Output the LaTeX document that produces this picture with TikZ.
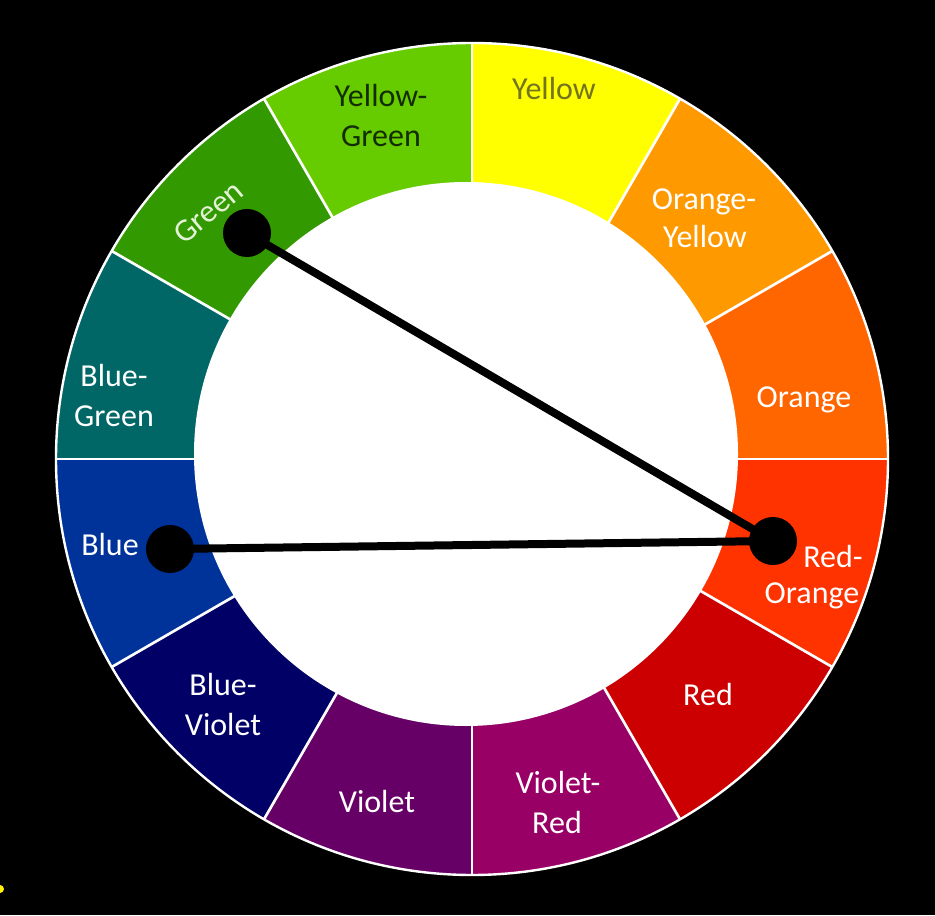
\documentclass[tikz,border=0pt]{standalone}
\usepackage{fontspec}
\setmainfont{Carlito}
\definecolor{cY}{HTML}{FFFF00}
\definecolor{cOY}{HTML}{FF9900}
\definecolor{cO}{HTML}{FF6600}
\definecolor{cRO}{HTML}{FF3300}
\definecolor{cR}{HTML}{CC0000}
\definecolor{cVR}{HTML}{990066}
\definecolor{cV}{HTML}{660066}
\definecolor{cBV}{HTML}{000066}
\definecolor{cB}{HTML}{003399}
\definecolor{cBG}{HTML}{006666}
\definecolor{cG}{HTML}{339900}
\definecolor{cYG}{HTML}{66CC00}
\definecolor{tYel}{HTML}{737320}
\definecolor{tYG}{HTML}{142D00}
\definecolor{tGr}{HTML}{E4F2D8}
\begin{document}
\begin{tikzpicture}[x=0.75pt,y=0.75pt,
  lbl/.style={font=\fontsize{24}{30}\selectfont, text=white, anchor=base, inner sep=0pt},
  dot/.style={circle, fill=black, minimum size=36pt, inner sep=0pt},
  link/.style={draw=black, line width=6pt}]
\useasboundingbox (0,0) rectangle (935,915);
\fill[black] (0,0) rectangle (935,915);
\coordinate (O) at (472,456);
\foreach \a/\c in {60/cY, 30/cOY, 0/cO, -30/cRO, -60/cR, -90/cVR, -120/cV, -150/cBV, -180/cB, 150/cBG, 120/cG, 90/cYG} {
  \fill[\c] (O) -- ++(\a:416) arc[start angle=\a, end angle=\a+30, radius=416] -- cycle;
}
\foreach \a in {0,30,...,330} {
  \draw[white, line width=2pt] (O) -- ++(\a:416);
}
\draw[white, line width=1.8pt] (O) circle[radius=416];
\fill[white] (466,461) circle[radius=272];
\fill[yellow] (0,26) circle[radius=4];
% labels
\node[lbl, text=tYG] (yg1) at (381,808) {Yellow-};
\node[lbl, text=tYG] (yg2) at (381,768) {Green};
\node[lbl, text=tYel] (y1) at (554,815) {Yellow};
\node[lbl] (oy1) at (704,705) {Orange-};
\node[lbl] (oy2) at (705,667) {Yellow};
\node[lbl] (o1) at (804,507) {Orange};
\node[lbl] (ro1) at (833,348) {Red-};
\node[lbl] (ro2) at (812,312) {Orange};
\node[lbl] (r1) at (708,210) {Red};
\node[lbl] (vr1) at (558,122) {Violet-};
\node[lbl] (vr2) at (557,82) {Red};
\node[lbl] (v1) at (377,103) {Violet};
\node[lbl] (bv1) at (223,220) {Blue-};
\node[lbl] (bv2) at (223,180) {Violet};
\node[lbl] (b1) at (110,360) {Blue};
\node[lbl] (bg1) at (114,528) {Blue-};
\node[lbl] (bg2) at (114,488) {Green};
\node[lbl, anchor=center, rotate=40, text=tGr] (g1) at (208,703) {Green};
% dots and links
\node[dot] (dG) at (247,682) {};
\node[dot] (dB) at (170,366) {};
\node[dot] (dRO) at (773,374) {};
\draw[link] (dG.center) -- (dRO.center);
\draw[link] (dB.center) -- (dRO.center);
\end{tikzpicture}
\end{document}
